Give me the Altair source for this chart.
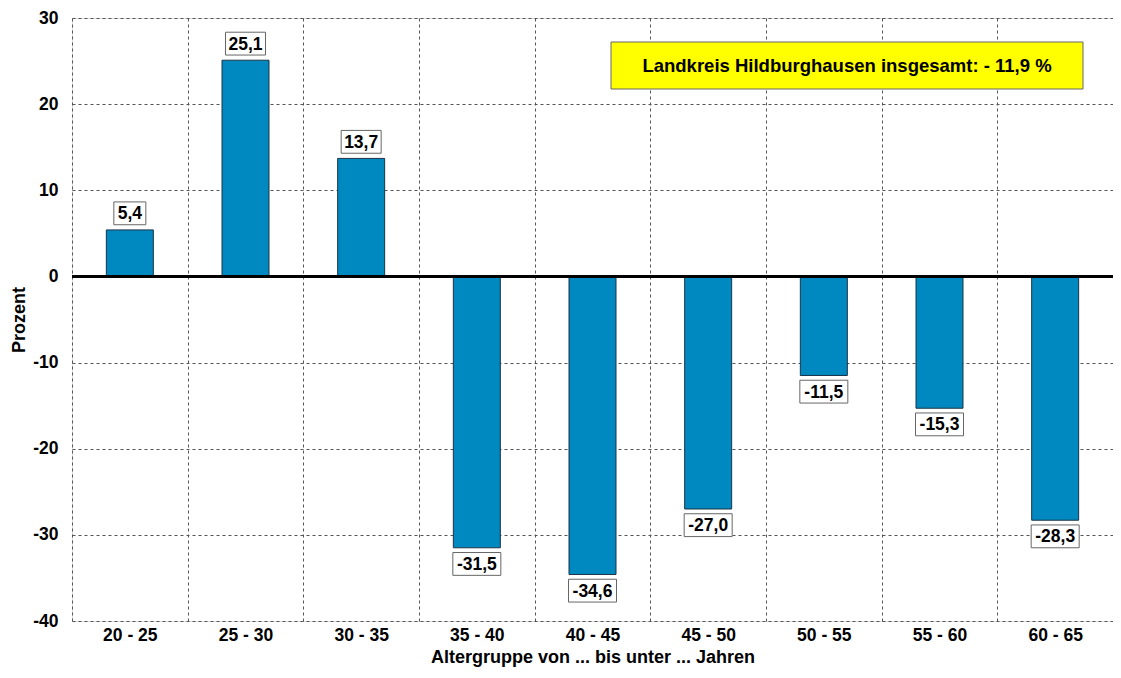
import altair as alt
import pandas as pd

categories = ["20 - 25", "25 - 30", "30 - 35", "35 - 40", "40 - 45", "45 - 50", "50 - 55", "55 - 60", "60 - 65"]
values = [5.4, 25.1, 13.7, -31.5, -34.6, -27.0, -11.5, -15.3, -28.3]
labels = ["5,4", "25,1", "13,7", "-31,5", "-34,6", "-27,0", "-11,5", "-15,3", "-28,3"]
note = "Landkreis Hildburghausen insgesamt:  - 11,9 %"

df = pd.DataFrame({"cat": categories, "val": values, "lab": labels})
df["boxw"] = df["lab"].str.len() * 8 + 8

FONT = "Liberation Sans"
W, H = 1041, 603

x = alt.X("cat:N", sort=categories, title="Altergruppe von ... bis unter ... Jahren",
          scale=alt.Scale(paddingInner=0, paddingOuter=0),
          axis=alt.Axis(labelAngle=0, ticks=False, domain=False, grid=True, tickBand="extent",
                        gridDash=[3, 3], gridColor="#555555", gridWidth=1,
                        labelFont=FONT, labelFontWeight="bold", labelFontSize=17.5, labelColor="#000000",
                        labelPadding=5, titleFont=FONT, titleFontWeight="bold", titleFontSize=18,
                        titleColor="#000000", titlePadding=5))
yscale = alt.Scale(domain=[-40, 30], nice=False, zero=False)

bars = alt.Chart(df).mark_bar(color="#0088C0", stroke="#1b3347", strokeWidth=1, size=47).encode(
    x=x,
    y=alt.Y("val:Q", scale=yscale, title="Prozent",
            axis=alt.Axis(values=list(range(-40, 31, 10)), ticks=False, domain=False,
                          gridDash=[3, 3], gridColor="#555555", gridWidth=1,
                          labelExpr="toString(datum.value)",
                          labelFont=FONT, labelFontWeight="bold", labelFontSize=17.5, labelColor="#000000",
                          labelPadding=14, titleFont=FONT, titleFontWeight="bold", titleFontSize=18,
                          titleColor="#000000", titlePadding=4)),
    y2=alt.datum(0),
)

zero = alt.Chart(df).mark_rule(color="#000000", strokeWidth=2.5).encode(y=alt.datum(0, scale=yscale))

base = alt.Chart(df).transform_calculate(
    b1="datum.val >= 0 ? datum.val + 0.6 : datum.val - 0.55",
    b2="datum.val >= 0 ? datum.val + 3.25 : datum.val - 3.2",
    bm="(datum.b1 + datum.b2) / 2",
)
boxes = base.mark_bar(color="#ffffff", stroke="#666666", strokeWidth=1).encode(
    x=alt.X("cat:N", sort=categories),
    y=alt.Y("b1:Q", scale=yscale),
    y2="b2:Q",
    size=alt.Size("boxw:Q", scale=None, legend=None),
)
texts = base.mark_text(font=FONT, fontWeight="bold", fontSize=17.5, color="#000000", baseline="middle", dy=1).encode(
    x=alt.X("cat:N", sort=categories),
    y=alt.Y("bm:Q", scale=yscale),
    text="lab:N",
)

notebox = alt.Chart(df).mark_rect(color="#ffff00", stroke="#666666", strokeWidth=1).encode(
    x=alt.value(539), x2=alt.value(1011), y=alt.value(24), y2=alt.value(71)
).transform_filter("datum.cat == '20 - 25'")
notetext = alt.Chart(df).mark_text(font=FONT, fontWeight="bold", fontSize=18.5, color="#000000",
                                   baseline="middle", align="center").encode(
    x=alt.value(775), y=alt.value(48), text=alt.datum(note)
).transform_filter("datum.cat == '20 - 25'")

chart = alt.layer(bars, zero, boxes, texts, notebox, notetext).properties(
    width=W, height=H,
    autosize=alt.AutoSizeParams(type="none"),
    padding={"left": 64, "top": 10, "right": 0, "bottom": 49},
).configure_view(stroke="#808080", strokeWidth=1.5).configure(background="#ffffff")

chart.save("out.html", embed_options={"renderer": "svg", "actions": False})
